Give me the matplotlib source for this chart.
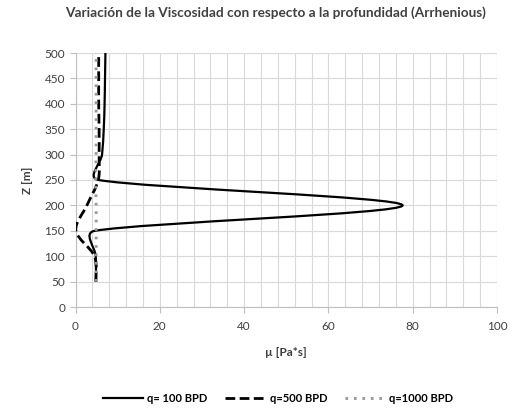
import numpy as np
import matplotlib
matplotlib.use("Agg")
import matplotlib.pyplot as plt
from matplotlib.path import Path
from matplotlib.patches import PathPatch
from matplotlib.lines import Line2D
from matplotlib.ticker import MultipleLocator

# Profundidad (m) y viscosidad (Pa*s) para cada caudal
profundidad = [50, 100, 150, 200, 250, 300, 350, 400, 450, 500]
mu_q100 = [4.9, 4.8, 4.6, 77.6, 5.5, 6.3, 6.7, 6.9, 7.0, 7.1]
mu_q500 = [4.8, 4.5, 0.1, 2.7, 5.4, 5.6, 5.6, 5.5, 5.5, 5.5]
mu_q1000 = [4.9, 4.9, 4.9, 4.9, 4.8, 4.9, 4.9, 4.9, 4.9, 4.9]

etiquetas = ['q= 100 BPD', 'q=500 BPD', 'q=1000 BPD']

plt.rcParams['font.family'] = ['Lato', 'DejaVu Sans']

W, H = 516, 412
fig = plt.figure(figsize=(W / 100, H / 100), dpi=100)
ax = fig.add_axes([75.5 / W, (H - 307) / H, (497 - 75.5) / W, (307 - 53) / H])

XMIN, XMAX, ZMIN, ZMAX = 0, 100, 0, 500
# escala aproximada en pixeles por unidad (para suavizado tipo Excel)
SX = (497 - 75.5) / (XMAX - XMIN)
SZ = (307 - 53) / (ZMAX - ZMIN)


def curva_suavizada(xs, zs):
    """Curva Bezier que pasa por los puntos, al estilo de 'linea suavizada'."""
    P = np.column_stack([np.asarray(xs, float) * SX, np.asarray(zs, float) * SZ])
    n = len(P)
    verts = [P[0]]
    codes = [Path.MOVETO]
    for i in range(n - 1):
        p0 = P[i - 1] if i > 0 else P[i]
        p1, p2 = P[i], P[i + 1]
        p3 = P[i + 2] if i + 2 < n else P[i + 1]
        seg = np.linalg.norm(p2 - p1)
        t1 = (p2 - p0) / 6.0
        t2 = (p3 - p1) / 6.0
        for t in (t1, t2):
            nt = np.linalg.norm(t)
            if nt > seg / 2:
                t *= (seg / 2) / nt
        verts += [p1 + t1, p2 - t2, p2]
        codes += [Path.CURVE4] * 3
    verts = np.array(verts) / np.array([SX, SZ])
    return Path(verts, codes)


estilos = [
    dict(color='black', lw=1.6, ls='-'),
    dict(color='black', lw=2.0, ls=(0, (3.5, 1.6))),
    dict(color='#999999', lw=2.1, ls=(0, (0.9, 2.0))),
]

handles = []
for mu, est, lab in zip([mu_q100, mu_q500, mu_q1000], estilos, etiquetas):
    patch = PathPatch(curva_suavizada(mu, profundidad), fill=False,
                      edgecolor=est['color'], linewidth=est['lw'],
                      linestyle=est['ls'], zorder=3)
    ax.add_patch(patch)
    handles.append(Line2D([], [], color=est['color'], lw=est['lw'],
                          ls=est['ls'], label=lab))

ax.set_xlim(XMIN, XMAX)
ax.set_ylim(ZMIN, ZMAX)
ax.xaxis.set_major_locator(MultipleLocator(20))
ax.xaxis.set_minor_locator(MultipleLocator(4))
ax.yaxis.set_major_locator(MultipleLocator(50))

grid_col = '#d9d9d9'
ax.grid(True, which='major', axis='both', color=grid_col, lw=0.8)
ax.grid(True, which='minor', axis='x', color=grid_col, lw=0.8)
ax.set_axisbelow(True)

for s in ['top', 'right']:
    ax.spines[s].set_visible(False)
for s in ['left', 'bottom']:
    ax.spines[s].set_color('#bfbfbf')
    ax.spines[s].set_linewidth(0.8)

ax.tick_params(which='major', length=4, color='#bfbfbf', width=0.8,
               labelsize=8.5, labelcolor='#404040')
ax.tick_params(axis='x', which='major', pad=6)
ax.tick_params(which='minor', length=0)

ax.set_xlabel('µ [Pa*s]', fontsize=8.5, fontweight='bold', color='#404040', labelpad=11)
ax.set_ylabel('Z [m]', fontsize=8.5, fontweight='bold', color='#404040', labelpad=8)

fig.text(276 / W, (H - 13) / H, 'Variación de la Viscosidad con respecto a la profundidad (Arrhenious)',
         ha='center', va='center', fontsize=9.8, fontweight='bold', color='#404040')

fig.legend(handles=handles, loc='center', bbox_to_anchor=(278 / W, 14 / H), ncol=3,
           frameon=False, handlelength=3.6, columnspacing=1.6,
           handletextpad=0.4, prop=dict(weight='bold', size=8))

fig.savefig('out.png', dpi=100)
